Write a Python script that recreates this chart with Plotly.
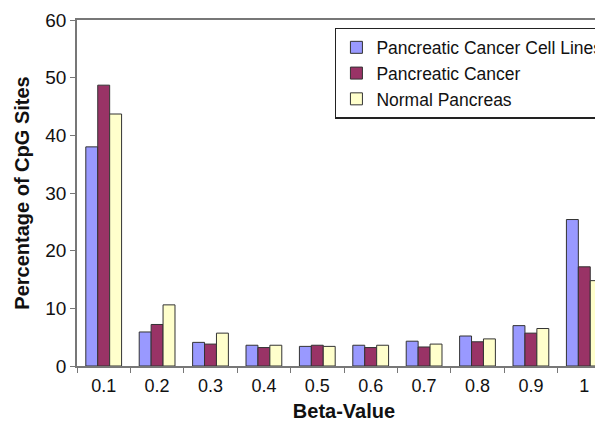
import plotly.graph_objects as go

categories = ["0.1", "0.2", "0.3", "0.4", "0.5", "0.6", "0.7", "0.8", "0.9", "1"]
cell_lines = [38.0, 5.9, 4.1, 3.6, 3.4, 3.6, 4.3, 5.2, 7.0, 25.4]
cancer = [48.7, 7.2, 3.8, 3.2, 3.6, 3.2, 3.3, 4.2, 5.7, 17.2]
normal = [43.7, 10.6, 5.7, 3.6, 3.4, 3.6, 3.8, 4.7, 6.5, 14.8]

series = [
    ("Pancreatic Cancer Cell Lines", cell_lines, "#9999FF"),
    ("Pancreatic Cancer", cancer, "#993366"),
    ("Normal Pancreas", normal, "#FFFFCC"),
]

fig = go.Figure()
for name, vals, col in series:
    fig.add_trace(go.Bar(
        x=categories, y=vals, name=name,
        marker=dict(color=col, line=dict(color="#333333", width=1)),
    ))

font = "Liberation Sans, Arial, sans-serif"
fig.update_layout(
    width=603, height=423,
    margin=dict(l=69, r=0, t=12, b=65, autoexpand=False),
    paper_bgcolor="white", plot_bgcolor="white",
    barmode="group", bargap=0.33, bargroupgap=0,
    font=dict(family=font, size=18, color="#111111"),
    showlegend=True,
    legend=dict(
        x=0.483, y=0.977, xanchor="left", yanchor="top",
        bgcolor="white", bordercolor="#222222", borderwidth=1.5,
        font=dict(size=17.5, color="#111111"),
        tracegroupgap=0, itemwidth=30,
    ),
    xaxis=dict(
        type="category", range=[-0.5, 9.5], automargin=False,
        showline=True, linecolor="#777777", linewidth=1.5, mirror=True,
        ticks="outside", ticklen=5, tickcolor="#777777", tickson="boundaries",
        ticklabelstandoff=3,
        tickfont=dict(size=18), showgrid=False,
        title=dict(text="<b>Beta-Value</b>", font=dict(size=20), standoff=9),
    ),
    yaxis=dict(
        range=[0, 60], dtick=10, automargin=False,
        showline=True, linecolor="#777777", linewidth=1.5,
        ticks="outside", ticklen=5, tickcolor="#777777",
        tickfont=dict(size=19), showgrid=False, zeroline=False,
        title=dict(text="<b>Percentage of CpG Sites</b>", font=dict(size=20), standoff=10),
    ),
)

fig.write_html("out.html")
